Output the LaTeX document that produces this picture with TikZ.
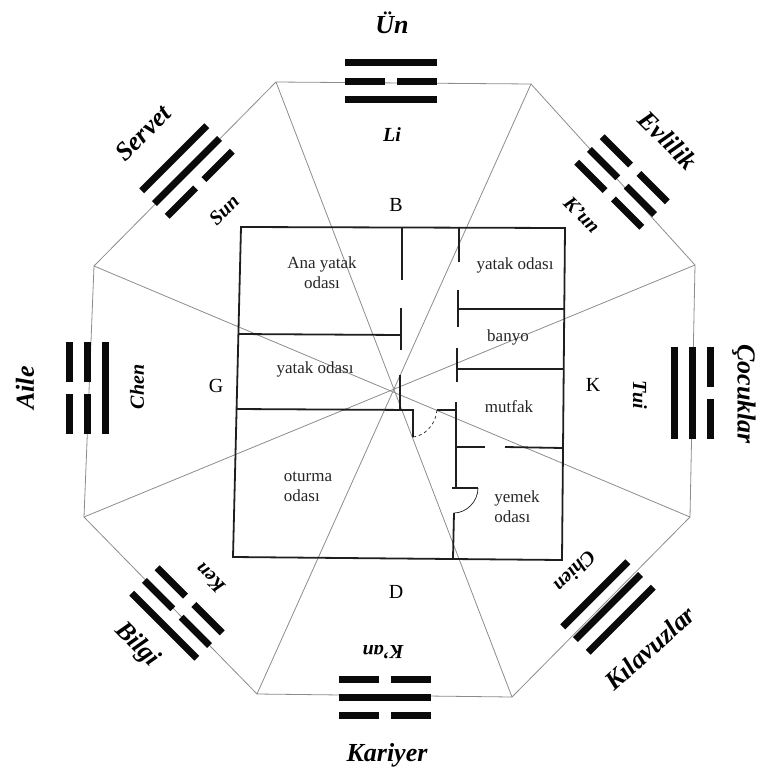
\documentclass[tikz,border=0pt]{standalone}
\usepackage{fontspec}
\setmainfont{Liberation Serif}
\definecolor{octaline}{HTML}{8C8C8C}
\definecolor{barink}{HTML}{0A0A0A}
\definecolor{wallink}{HTML}{1E1E1E}
\newcommand{\solidbar}[1]{\draw[barline] (-46,#1) -- (46,#1);}
\newcommand{\brokenbar}[1]{\draw[barline] (-46,#1) -- (-6,#1); \draw[barline] (6,#1) -- (46,#1);}
\tikzset{
  barline/.style={draw=barink, line width=7pt},
  octaedge/.style={draw=octaline, line width=0.8pt},
  wall/.style={draw=wallink, line width=1.8pt},
  thinwall/.style={draw=wallink, line width=0.7pt},
  trilabel/.style={font=\fontsize{20}{20}\selectfont\bfseries\itshape},
  namelabel/.style={font=\fontsize{26}{26}\selectfont\bfseries\itshape},
  roomlabel/.style={font=\fontsize{17}{20}\selectfont, align=center, text=black!85},
  sidelabel/.style={font=\fontsize{20}{20}\selectfont}
}
\begin{document}
\begin{tikzpicture}[x=1pt, y=-1pt]
  \useasboundingbox (0,0) rectangle (760,774);
  \newcommand{\trigram}[4]{%
    \begin{scope}[shift={(#1,#2)}, rotate=#3]
      #4
    \end{scope}}

  \coordinate (octatl) at (276,82);
  \coordinate (octatr) at (531,84);
  \coordinate (octaru) at (695,265);
  \coordinate (octarl) at (690,517);
  \coordinate (octabr) at (512,697);
  \coordinate (octabl) at (257,694);
  \coordinate (octall) at (84,517);
  \coordinate (octalu) at (94,266);

  \draw[octaedge] (octatl) -- (octatr) -- (octaru) -- (octarl) -- (octabr) -- (octabl) -- (octall) -- (octalu) -- cycle;
  \draw[octaedge] (octatl) -- (octabr);
  \draw[octaedge] (octatr) -- (octabl);
  \draw[octaedge] (octalu) -- (octarl);
  \draw[octaedge] (octaru) -- (octall);

  \draw[wall] (241,227) -- (565,228) -- (562,560) -- (233,557) -- cycle;
  \draw[wall] (402,228) -- (402,280);
  \draw[wall] (401,308) -- (401,350);
  \draw[wall] (238,334) -- (401,335);
  \draw[wall] (400,375) -- (400,410);
  \draw[wall] (236,409) -- (413,410) -- (413,437);
  \draw[wall] (437,410) -- (456,410);
  \draw[wall] (459,228) -- (459,262);
  \draw[wall] (458,290) -- (458,327);
  \draw[wall] (458,309) -- (564,309);
  \draw[wall] (457,348) -- (457,382);
  \draw[wall] (457,369) -- (563,369);
  \draw[wall] (456,402) -- (456,488);
  \draw[wall] (456,447) -- (485,447);
  \draw[wall] (505,447) -- (563,448);
  \draw[wall] (452,488) -- (478,488);
  \draw[wall] (454,513) -- (453,558);
  \draw[thinwall] (478,488) .. controls (478,502) and (466,513) .. (454,513);
  \draw[thinwall, dashed] (413,437) .. controls (425,436) and (436,424) .. (437,410);

  \trigram{391}{81}{0}{\solidbar{-18.5}\brokenbar{0}\solidbar{18}}
  \trigram{622}{182}{-45}{\brokenbar{-18}\brokenbar{0}\brokenbar{18}}
  \trigram{692}{393}{-90}{\brokenbar{-18}\solidbar{0}\solidbar{18}}
  \trigram{608}{607}{-135}{\solidbar{-18}\solidbar{0}\solidbar{18}}
  \trigram{385}{697}{180}{\brokenbar{-18}\solidbar{0}\brokenbar{18}}
  \trigram{177}{613}{135}{\solidbar{-18}\brokenbar{0}\brokenbar{18}}
  \trigram{87}{388}{90}{\brokenbar{-18}\brokenbar{0}\solidbar{18}}
  \trigram{187}{171}{45}{\solidbar{-18}\solidbar{0}\brokenbar{18}}

  \node[namelabel] (uen) at (392,23) {Ün};
  \node[namelabel, rotate=45] (servet) at (143,133) {Servet};
  \node[namelabel, rotate=-45] (evlilik) at (668,140) {Evlilik};
  \node[namelabel, rotate=90] (aile) at (25,388) {Aile};
  \node[namelabel, rotate=-90] (cocuklar) at (744,394) {Çocuklar};
  \node[namelabel, rotate=-45] (bilgi) at (137,645) {Bilgi};
  \node[namelabel, rotate=42] (kilavuzlar) at (650,648) {Kılavuzlar};
  \node[namelabel] (kariyer) at (387,755) {Kariyer};

  \node[trilabel] (li) at (392,135) {Li};
  \node[trilabel, rotate=45] (sun) at (224,210) {Sun};
  \node[trilabel, rotate=-45] (kun) at (582,215) {K'un};
  \node[trilabel, rotate=90] (chen) at (137,387) {Chen};
  \node[trilabel, rotate=-90] (tui) at (640,395) {Tui};
  \node[trilabel, rotate=135] (ken) at (210,578) {Ken};
  \node[trilabel, rotate=-135] (chien) at (575,572) {Chien};
  \node[trilabel, rotate=180] (kan) at (383,652) {K'an};

  \node[sidelabel] (bati) at (396,205) {B};
  \node[sidelabel] (guney) at (216,386) {G};
  \node[sidelabel] (kuzey) at (593,385) {K};
  \node[sidelabel] (dogu) at (396,592) {D};

  \node[roomlabel] (anaoda) at (322,273) {Ana yatak\\odası};
  \node[roomlabel] (yatakb) at (515,265) {yatak odası};
  \node[roomlabel] (banyo) at (508,337) {banyo};
  \node[roomlabel] (yataka) at (315,369) {yatak odası};
  \node[roomlabel] (mutfak) at (509,407) {mutfak};
  \node[roomlabel, align=left] (oturma) at (308,487) {oturma\\odası};
  \node[roomlabel, align=left] (yemek) at (517,507) {yemek\\odası};
\end{tikzpicture}
\end{document}
